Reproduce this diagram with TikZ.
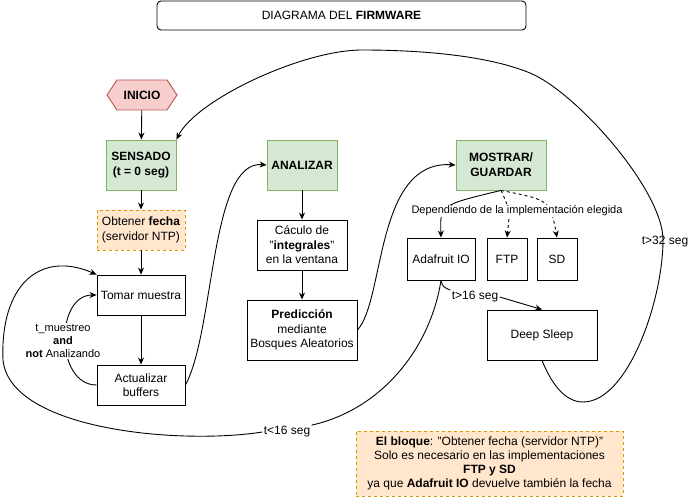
\documentclass[tikz,border=0pt]{standalone}
\usepackage{fontspec}
\setmainfont{Liberation Sans}
\usetikzlibrary{arrows.meta,shapes.symbols}
\definecolor{rojoF}{HTML}{F8CECC}
\definecolor{rojoB}{HTML}{B85450}
\definecolor{verdeF}{HTML}{D5E8D4}
\definecolor{verdeB}{HTML}{82B366}
\definecolor{naranjaF}{HTML}{FFE6CC}
\definecolor{naranjaB}{HTML}{D79B00}
\tikzset{>/.tip={Stealth[length=7pt,width=6pt]},
  caja/.style={draw, align=center, inner sep=1pt, minimum width=88pt, minimum height=40pt},
  verde/.style={caja, fill=verdeF, draw=verdeB, font=\fontsize{12}{15}\selectfont\bfseries, minimum width=70pt, minimum height=50pt},
  naranja/.style={caja, fill=naranjaF, draw=naranjaB, dashed},
  etiq/.style={fill=white, inner sep=1pt, align=center},
  chica/.style={font=\fontsize{11}{13}\selectfont}}

\begin{document}
\begin{tikzpicture}[x=1pt, y=-1pt, line width=0.9pt, font=\fontsize{12}{14.5}\selectfont]
\useasboundingbox (0,0) rectangle (692,502);
\node[draw, rounded corners=4pt, minimum width=369pt, minimum height=29pt] (tit) at (341.5,15.5) {DIAGRAMA DEL \textbf{FIRMWARE}};
\node[signal, signal to=west and east, signal pointer angle=113, fill=rojoF, draw=rojoB,
  minimum width=70pt, minimum height=30pt, inner sep=0pt, font=\fontsize{12}{15}\selectfont\bfseries] (ini) at (142,95) {INICIO};
\node[verde] (sen) at (141,165) {SENSADO\\(t = 0 seg)};
\node[naranja] (obt) at (141,230) {Obtener \textbf{fecha}\\(servidor NTP)};
\node[caja] (tom) at (141,295) {Tomar muestra};
\node[caja] (act) at (141,385) {Actualizar\\buffers};
\node[verde] (ana) at (302,165) {ANALIZAR};
\node[caja, minimum width=90pt, minimum height=50pt] (cal) at (302,245) {Cáculo de\\"\textbf{integrales}"\\en la ventana};
\node[caja, minimum width=110pt, minimum height=60pt] (pre) at (302,330) {\textbf{Predicción}\\mediante\\Bosques Aleatorios};
\node[verde, minimum width=90pt] (mos) at (501,165) {MOSTRAR/\\GUARDAR};
\node[caja, minimum width=68pt, minimum height=42pt] (ada) at (441,259) {Adafruit IO};
\node[caja, minimum width=40pt, minimum height=42pt] (ftp) at (507,259) {FTP};
\node[caja, minimum width=40pt, minimum height=42pt] (sd) at (557,259) {SD};
\node[caja, minimum width=110pt, minimum height=50pt] (ds) at (542,335) {Deep Sleep};
\node[naranja, minimum width=267pt, minimum height=65pt, inner sep=2pt, font=\fontsize{12}{14}\selectfont] (nota) at (489.5,463.5)
  {\textbf{El bloque}: "Obtener fecha (servidor NTP)"\\Solo es necesario en las implementaciones\\\textbf{FTP y SD}\\ya que \textbf{Adafruit IO} devuelve también la fecha};

\foreach \a/\b in {ini/sen, sen/obt, obt/tom, tom/act, ana/cal, cal/pre}
{
  \draw[->] (\a) -- (\b);
}
\draw[->] (act.east) .. controls (215,330) and (210,160) .. (ana.west);
\draw[->] (pre.east) .. controls (385,300) and (375,160) .. (mos.west);

% bucle de muestreo
\draw[->] (act.west) .. controls (55,385) and (55,295) .. (tom.west);
\node[etiq, chica] (lmue) at (63,341) {t\_muestreo\\\textbf{and}\\\textbf{not} Analizando};

% implementaciones
\draw[->] (mos.south) .. controls (440,205) .. (ada.north);
\draw[->, dashed] (mos.south) .. controls (510,210) .. (ftp.north);
\draw[->, dashed] (mos.south) .. controls (550,200) .. (sd.north);
\node[etiq, chica] (ldep) at (517,211) {Dependiendo de la implementación elegida};

% tiempos
\node[etiq] (lgt16) at (475,297) {t>16 seg};
\draw (ada.south) .. controls (443,287) .. (lgt16.north west);
\draw[->] (lgt16.east) -- (ds.north);
\node[etiq] (lt16) at (287,432) {t<16 seg};
\draw (ada.south) .. controls (430,350) and (380,410) .. (lt16.north east);
\draw[->] (lt16.west) .. controls (180,445) and (10,430) .. (3,360) .. controls (0,285) and (40,250) .. (tom.north west);
\draw[->] (ds.south) .. controls (550,380) and (563,402) .. (583,402) .. controls (628,402) and (663,300) .. (663,240)
  .. controls (663,190) and (576,92) .. (530,73) .. controls (484,54) and (412,50) .. (362,50)
  .. controls (302,50) and (196,100) .. (sen.north east);
\node[inner sep=1pt] (lgt32) at (665,242) {t>32 seg};
\end{tikzpicture}
\end{document}
